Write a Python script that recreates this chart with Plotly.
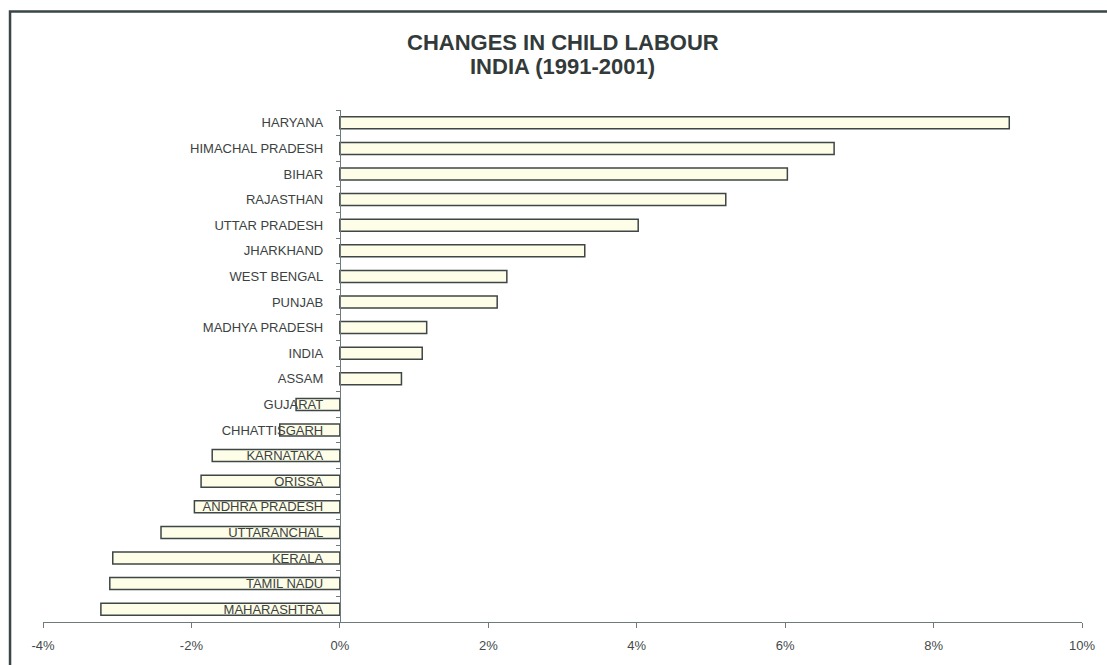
import plotly.graph_objects as go

# Change in child labour share between the 1991 and 2001 censuses (percent points)
states = [
    "HARYANA", "HIMACHAL PRADESH", "BIHAR", "RAJASTHAN", "UTTAR PRADESH",
    "JHARKHAND", "WEST BENGAL", "PUNJAB", "MADHYA PRADESH", "INDIA", "ASSAM",
    "GUJARAT", "CHHATTISGARH", "KARNATAKA", "ORISSA", "ANDHRA PRADESH",
    "UTTARANCHAL", "KERALA", "TAMIL NADU", "MAHARASHTRA",
]
change_pct = [
    9.02, 6.66, 6.03, 5.20, 4.02,
    3.30, 2.25, 2.12, 1.17, 1.11, 0.83,
    -0.59, -0.81, -1.72, -1.87, -1.96,
    -2.41, -3.06, -3.10, -3.22,
]
x_ticks = [-4, -2, 0, 2, 4, 6, 8, 10]
x_tick_text = ["-4%", "-2%", "0%", "2%", "4%", "6%", "8%", "10%"]

X_MIN, X_MAX = -4, 10
FONT = "Liberation Sans, Arial, sans-serif"
INK = "#3c4242"

fig = go.Figure(
    go.Bar(
        x=change_pct,
        y=states,
        orientation="h",
        marker=dict(color="#fdfde8", line=dict(color="#3f4646", width=1.5)),
        hoverinfo="x+y",
    )
)

fig.update_layout(
    width=1107,
    height=665,
    margin=dict(l=43, r=24, t=110, b=40),
    paper_bgcolor="white",
    plot_bgcolor="white",
    showlegend=False,
    bargap=0.53,
    font=dict(family=FONT, color=INK, size=12),
    xaxis=dict(
        range=[X_MIN, X_MAX],
        tickvals=x_ticks,
        ticktext=x_tick_text,
        showgrid=False,
        zeroline=False,
        showline=True,
        linecolor="#6f7b7b",
        linewidth=1,
        ticks="outside",
        ticklen=5,
        tickcolor="#6f7b7b",
        ticklabelstandoff=6,
        tickfont=dict(size=13, color="#444a4a"),
        domain=[0, 1],
    ),
    yaxis=dict(
        type="category",
        autorange="reversed",
        anchor="free",
        # category axis crosses the value axis at 0%
        position=(0 - X_MIN) / (X_MAX - X_MIN),
        showgrid=False,
        zeroline=False,
        showline=True,
        linecolor="#6f7b7b",
        linewidth=1,
        ticks="outside",
        tickson="boundaries",
        ticklen=4,
        tickcolor="#6f7b7b",
        ticklabelstandoff=14,
        tickfont=dict(size=13, color=INK),
        layer="above traces",
    ),
)

# Title lines
fig.add_annotation(
    text="<b>CHANGES IN CHILD LABOUR</b>", xref="paper", yref="paper",
    x=0.5, y=1 + (110 - 42) / 515, xanchor="center", yanchor="middle",
    showarrow=False, font=dict(family=FONT, size=22, color="#333a3a"),
)
fig.add_annotation(
    text="<b>INDIA (1991-2001)</b>", xref="paper", yref="paper",
    x=0.5, y=1 + (110 - 66) / 515, xanchor="center", yanchor="middle",
    showarrow=False, font=dict(family=FONT, size=22, color="#333a3a"),
)

# Chart frame (runs off the right and bottom edges of the page)
fig.add_shape(
    type="rect", xref="paper", yref="paper",
    x0=(10 - 43) / 1040, x1=1.2, y0=-0.3, y1=(625 - 11) / 515,
    line=dict(color="#3a4646", width=2.5), fillcolor="rgba(0,0,0,0)",
    layer="below",
)

fig.write_html("out.html")
